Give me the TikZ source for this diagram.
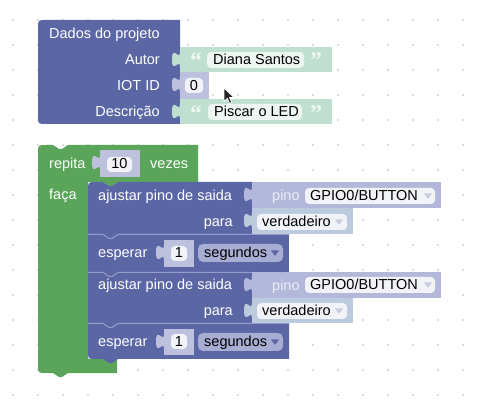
\documentclass[tikz,border=0pt]{standalone}
\usepackage{fontspec}
\setmainfont{Liberation Sans}
\newfontfamily\qfont{Liberation Serif}
\definecolor{blk}{HTML}{5B67A5}
\definecolor{grn}{HTML}{5BA55B}
\definecolor{txtsh}{HTML}{BFDFD1}
\definecolor{numsh}{HTML}{BDC1DE}
\definecolor{pinsh}{HTML}{B3B8DA}
\definecolor{boolsh}{HTML}{BCCADD}
\definecolor{ddsh}{HTML}{A8ADD3}
\definecolor{dotc}{HTML}{D0D0D0}
\definecolor{hil}{HTML}{959CCB}
\definecolor{fieldbg}{HTML}{F1F3F8}
\definecolor{txtfield}{HTML}{EEF6F2}
\definecolor{quotec}{HTML}{EEF7F3}
\definecolor{ddarrow}{HTML}{C9CCDD}
\newcommand\vtab[3]{\fill[#3] (#1,#2+5) .. controls (#1,#2+15) and (#1-8,#2-3) .. (#1-8,#2+12.5) .. controls (#1-8,#2+28) and (#1,#2+10) .. (#1,#2+20) -- cycle;}
\newcommand\ddtri[3]{\fill[#3] (#1-4,#2-2.5) -- (#1+4,#2-2.5) -- (#1,#2+3) -- cycle;}
\tikzset{
  lbl/.style={inner sep=0, text=white, font=\fontsize{14.5}{17}\selectfont},
  fld/.style={inner sep=0, text=black, font=\fontsize{14.5}{17}\selectfont},
  pinlbl/.style={inner sep=0, text=white, text opacity=0.75, font=\fontsize{14.5}{17}\selectfont},
  qt/.style={inner sep=0, anchor=north west, text=quotec, font=\qfont\bfseries\fontsize{24}{24}\selectfont},
  sepline/.style={draw=hil, line width=1pt}
}
\begin{document}
\begin{tikzpicture}[x=1pt,y=-1pt]
\useasboundingbox (0,0) rectangle (479,411);
\fill[white] (0,0) rectangle (479,411);
% grid dots
\foreach \i in {0,...,18} \foreach \j in {0,...,15} \fill[dotc] (13+25*\i,20+25*\j) circle (1.1pt);

% ---------- Block 1: Dados do projeto ----------
\fill[blk] (38,28) .. controls (38,20) .. (46,20) -- (180,20) -- (180,124) -- (46,124) .. controls (38,124) .. (38,116) -- cycle;
\node[lbl, anchor=base west] (dados) at (49,39) {Dados do projeto};
\node[lbl, anchor=base east] (autor) at (160,65) {Autor};
\node[lbl, anchor=base east] (iotid) at (160,91) {IOT ID};
\node[lbl, anchor=base east] (desc) at (160,117) {Descrição};
% text block 1
\fill[txtsh] (180,47) rectangle (332,72); \vtab{180}{47}{txtsh}
\node[qt] (q1a) at (190,52.5) {“};
\node[qt] (q1b) at (310,52.5) {”};
\fill[txtfield, rounded corners=4] (207,52) rectangle (304,68);
\node[fld, anchor=base west] (diana) at (213,65) {Diana Santos};
% number 0
\fill[numsh] (180,72) rectangle (209,99); \vtab{180}{72}{numsh}
\fill[fieldbg, rounded corners=4] (185,78) rectangle (203,93);
\node[fld, anchor=base] (zero) at (194,91) {0};
% text block 2
\fill[txtsh] (180,99) rectangle (332,124); \vtab{180}{99}{txtsh}
\node[qt] (q2a) at (190,105) {“};
\node[qt] (q2b) at (310,105) {”};
\fill[txtfield, rounded corners=4] (208,104) rectangle (302,120);
\node[fld, anchor=base west] (piscar) at (214,117) {Piscar o LED};
% cursor
\filldraw[fill=black!85, draw=white, line width=0.8pt, line join=round] (224,88) -- (224,101.5) -- (227.3,98.4) -- (229.6,103.5) -- (231.8,102.5) -- (229.5,97.5) -- (234,97.5) -- cycle;

% ---------- Block 2: repita ----------
\fill[grn] (38,153) .. controls (38,145) .. (46,145) -- (53,145) -- (59,149) -- (62,149) -- (68,145) -- (198,145) -- (198,182) -- (118,182) -- (112,186) -- (109,186) -- (103,182) -- (88,182) -- (88,359) -- (117,359) -- (117,373) -- (68,373) -- (62,377) -- (59,377) -- (53,373) -- (46,373) .. controls (38,373) .. (38,365) -- cycle;
\node[lbl, anchor=base west] (repita) at (49,169) {repita};
\fill[numsh] (100,150) rectangle (140,177); \vtab{100}{150}{numsh}
\fill[fieldbg, rounded corners=4] (107,157) rectangle (132,172);
\node[fld, anchor=base] (ten) at (119.5,169) {10};
\node[lbl, anchor=base west] (vezes) at (150,169) {vezes};
\node[lbl, anchor=base west] (faca) at (49,200) {faça};

% inner stack
\fill[blk] (88,190) .. controls (88,182) .. (96,182) -- (103,182) -- (109,186) -- (112,186) -- (118,182) -- (252,182) -- (252,234) -- (88,234) -- cycle;
\fill[blk] (88,234) rectangle (289,272);
\fill[blk] (88,272) rectangle (252,323);
\fill[blk] (88,323) -- (289,323) -- (289,359) -- (118,359) -- (112,363) -- (109,363) -- (103,359) -- (96,359) .. controls (88,359) .. (88,351) -- cycle;
\draw[sepline] (88,234.5) -- (103,234.5) -- (109,238.5) -- (112,238.5) -- (118,234.5) -- (289,234.5);
\draw[sepline] (88,272.5) -- (103,272.5) -- (109,276.5) -- (112,276.5) -- (118,272.5) -- (252,272.5);
\draw[sepline] (88,323.5) -- (103,323.5) -- (109,327.5) -- (112,327.5) -- (118,323.5) -- (289,323.5);

% ajustar 1
\node[lbl, anchor=base west] (aj1) at (98,201) {ajustar pino de saida};
\node[lbl, anchor=base east] (para1) at (233,227) {para};
\fill[pinsh] (252,182) rectangle (441,208); \vtab{252}{182}{pinsh}
\node[pinlbl, anchor=base west] (pino1) at (272,201) {pino};
\fill[fieldbg, rounded corners=4] (305,188) rectangle (435,204);
\node[fld, anchor=base west] (gpio1) at (310,201) {GPIO0/BUTTON};
\ddtri{428}{196}{ddarrow}
\fill[boolsh] (252,208) rectangle (353,234); \vtab{252}{208}{boolsh}
\fill[fieldbg, rounded corners=4] (257,214) rectangle (347,230);
\node[fld, anchor=base west] (ver1) at (262,227) {verdadeiro};
\ddtri{339}{222}{ddarrow}

% esperar 1
\node[lbl, anchor=base west] (esp1) at (98,258) {esperar};
\fill[numsh] (164,240) rectangle (194,267); \vtab{164}{240}{numsh}
\fill[fieldbg, rounded corners=4] (171,246) rectangle (187,261);
\node[fld, anchor=base] (one1) at (179,258) {1};
\fill[ddsh, rounded corners=5] (198,244) rectangle (283,262);
\node[fld, anchor=base west] (seg1) at (204,258) {segundos};
\ddtri{275}{253}{blk}

% ajustar 2
\node[lbl, anchor=base west] (aj2) at (98,290) {ajustar pino de saida};
\node[lbl, anchor=base east] (para2) at (233,316) {para};
\fill[pinsh] (252,272) rectangle (441,298); \vtab{252}{272}{pinsh}
\node[pinlbl, anchor=base west] (pino2) at (272,291) {pino};
\fill[fieldbg, rounded corners=4] (305,277) rectangle (435,293);
\node[fld, anchor=base west] (gpio2) at (310,290) {GPIO0/BUTTON};
\ddtri{428}{285}{ddarrow}
\fill[boolsh] (252,298) rectangle (353,323); \vtab{252}{298}{boolsh}
\fill[fieldbg, rounded corners=4] (257,303) rectangle (347,319);
\node[fld, anchor=base west] (ver2) at (262,316) {verdadeiro};
\ddtri{339}{311}{ddarrow}

% esperar 2
\node[lbl, anchor=base west] (esp2) at (98,347) {esperar};
\fill[numsh] (164,329) rectangle (194,355); \vtab{164}{329}{numsh}
\fill[fieldbg, rounded corners=4] (171,334) rectangle (187,349);
\node[fld, anchor=base] (one2) at (179,347) {1};
\fill[ddsh, rounded corners=5] (198,333) rectangle (283,351);
\node[fld, anchor=base west] (seg2) at (204,347) {segundos};
\ddtri{275}{342}{blk}
\end{tikzpicture}
\end{document}
